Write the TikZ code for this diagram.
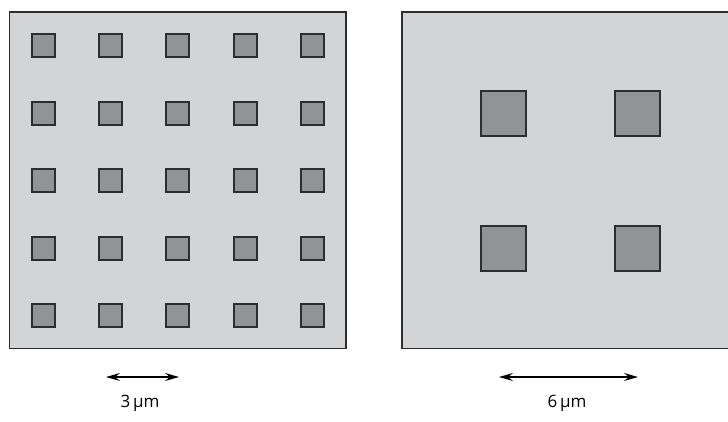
\documentclass[tikz,border=0pt]{standalone}
\usepackage{fontspec}
\setmainfont{Open Sans}
\usetikzlibrary{arrows.meta}
\definecolor{panelgrey}{RGB}{211,212,214}
\definecolor{dotgrey}{RGB}{146,147,150}
\definecolor{edge}{RGB}{45,45,48}
\begin{document}
\begin{tikzpicture}[x=1pt,y=-1pt,
  panel/.style={draw=edge,fill=panelgrey,line width=1.5pt},
  smallsq/.style={draw=edge,fill=dotgrey,line width=2pt,minimum size=23pt,inner sep=0pt,outer sep=0pt},
  bigsq/.style={draw=edge,fill=dotgrey,line width=2pt,minimum size=45pt,inner sep=0pt,outer sep=0pt},
  scalebar/.style={line width=1.1pt,{Stealth[length=14pt,width=8pt,inset=5pt]}-{Stealth[length=14pt,width=8pt,inset=5pt]}},
  lbl/.style={font=\fontsize{17}{19}\selectfont,inner sep=0pt}]
\useasboundingbox (0,0) rectangle (728,421);
\path[panel] (9.5,12) rectangle (346,348.5);
\path[panel] (402,12) rectangle (731,348.5);
\foreach \cx [count=\i] in {43,110,177,245,312}{
  \foreach \cy [count=\j] in {45,113,180,248,315}{
    \node[smallsq] (s\i\j) at (\cx,\cy) {};
  }
}
\foreach \cx [count=\i] in {503,637}{
  \foreach \cy [count=\j] in {113,248}{
    \node[bigsq] (b\i\j) at (\cx,\cy) {};
  }
}
\coordinate (la) at (106,377);
\coordinate (lb) at (179,377);
\coordinate (ra) at (499,377);
\coordinate (rb) at (638,377);
\draw[scalebar] (la) -- (lb);
\draw[scalebar] (ra) -- (rb);
\node[lbl] (t3) at (140,403) {3\,μm};
\node[lbl] (t6) at (567,403) {6\,μm};
\end{tikzpicture}
\end{document}
